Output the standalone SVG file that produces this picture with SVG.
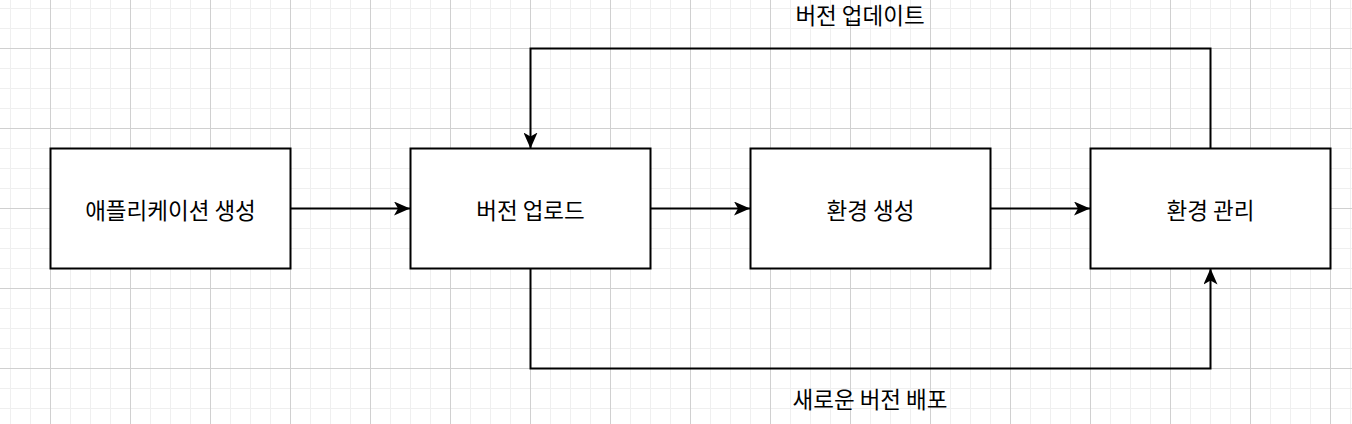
<svg xmlns="http://www.w3.org/2000/svg" width="1352" height="424" viewBox="0 0 1352 424">
<defs>
<pattern id="minor" x="10" y="8" width="20" height="20" patternUnits="userSpaceOnUse">
<path d="M0.5 0V20M0 0.5H20" fill="none" stroke="#efefef" stroke-width="1"/>
</pattern>
<pattern id="major" x="50" y="48" width="80" height="80" patternUnits="userSpaceOnUse">
<path d="M0.5 0V80M0 0.5H80" fill="none" stroke="#d0d0d0" stroke-width="1"/>
</pattern>
<marker id="arrL" viewBox="0 0 16 14" refX="16" refY="7" markerWidth="16" markerHeight="14" markerUnits="userSpaceOnUse" orient="auto">
<path d="M0 0L16 7L0 14L4 7Z" fill="#000"/>
</marker>
</defs>
<style>
.box{fill:#fff;stroke:#000;stroke-width:2}
.lbl{font-family:"Noto Sans CJK KR","Noto Sans",sans-serif;font-size:22.5px;fill:#000;text-anchor:middle;dominant-baseline:central}
.con{fill:none;stroke:#000;stroke-width:2;marker-end:url(#arrL)}
</style>
<rect width="1352" height="424" fill="#fff"/>
<rect width="1352" height="424" fill="url(#minor)"/>
<rect width="1352" height="424" fill="url(#major)"/>
<g id="connectors">
<path class="con" d="M290 208.5H410"/>
<path class="con" d="M650 208.5H750"/>
<path class="con" d="M990 208.5H1090"/>
<path class="con" d="M1210.5 148.5V48.5H530.5V148.5"/>
<path class="con" d="M530.5 268.5V368.5H1210.5V268.5"/>
<text class="lbl" x="860" y="14">버전 업데이트</text>
<text class="lbl" x="870" y="398">새로운 버전 배포</text>
</g>
<g id="node-app"><rect class="box" x="50.5" y="148.5" width="240" height="120"/><text class="lbl" x="170.5" y="209">애플리케이션 생성</text></g>
<g id="node-upload"><rect class="box" x="410.5" y="148.5" width="240" height="120"/><text class="lbl" x="530.5" y="209">버전 업로드</text></g>
<g id="node-env"><rect class="box" x="750.5" y="148.5" width="240" height="120"/><text class="lbl" x="870.5" y="209">환경 생성</text></g>
<g id="node-manage"><rect class="box" x="1090.5" y="148.5" width="240" height="120"/><text class="lbl" x="1210.5" y="209">환경 관리</text></g>
</svg>
